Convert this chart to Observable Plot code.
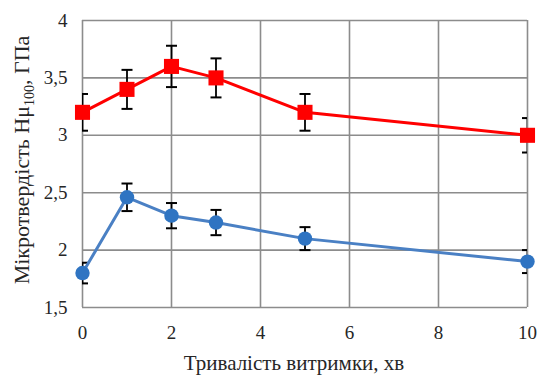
<!DOCTYPE html>
<html><head><meta charset="utf-8">
<script src="https://cdn.jsdelivr.net/npm/d3@7"></script>
<script src="https://cdn.jsdelivr.net/npm/@observablehq/plot@0.6"></script>
<style>
body{margin:0;background:#fff}
#chart svg, #chart svg text {font-family: "Liberation Serif", "DejaVu Serif", "Times New Roman", serif;}
</style>
</head><body><div id="chart"></div>
<script>
const times = [0, 1, 2, 3, 5, 10];
const redValues = [3.2, 3.4, 3.6, 3.5, 3.2, 3.0];
const redErrors = [0.16, 0.17, 0.18, 0.17, 0.16, 0.15];
const blueValues = [1.8, 2.46, 2.3, 2.24, 2.1, 1.9];
const blueErrors = [0.09, 0.12, 0.11, 0.11, 0.1, 0.1];
const xTicks = [0, 2, 4, 6, 8, 10];
const yTicks = [1.5, 2, 2.5, 3, 3.5, 4];
const xLabel = "Тривалість витримки, хв";
const yLabelMain = "Мікротвердість Hμ";
const yLabelSub = "100";
const yLabelEnd = ", ГПа";

const red = times.map((t, i) => ({t, v: redValues[i], e: redErrors[i]}));
const blue = times.map((t, i) => ({t, v: blueValues[i], e: blueErrors[i]}));
const capSymbol = {draw(ctx, size) { const r = Math.sqrt(size / Math.PI); ctx.moveTo(-r, 0); ctx.lineTo(r, 0); }};
const errMarks = (data) => [
  Plot.ruleX(data, {x: "t", y1: d => d.v - d.e, y2: d => d.v + d.e, stroke: "#000", strokeWidth: 1.8, clip: true}),
  Plot.dot(data, {x: "t", y: d => d.v - d.e, symbol: capSymbol, r: 5.5, stroke: "#000", strokeWidth: 2, clip: true}),
  Plot.dot(data, {x: "t", y: d => d.v + d.e, symbol: capSymbol, r: 5.5, stroke: "#000", strokeWidth: 2, clip: true})
];
const chart = Plot.plot({
  width: 539, height: 376,
  marginLeft: 82, marginRight: 12, marginTop: 20, marginBottom: 69,
  style: {fontSize: "19px", color: "#262626", background: "#fff"},
  x: {domain: [0, 10]},
  y: {domain: [1.5, 4]},
  marks: [
    Plot.ruleX(xTicks, {x: d => d, stroke: "#8c8c8c", strokeWidth: 1.6}),
    Plot.ruleY(yTicks, {y: d => d, stroke: "#8c8c8c", strokeWidth: 1.6}),
    Plot.axisX({ticks: xTicks, tickSize: 0, tickPadding: 18, label: null, tickFormat: d => String(d)}),
    Plot.axisY({ticks: yTicks, tickSize: 0, tickPadding: 15, label: null, tickFormat: d => String(d).replace(".", ",")}),
    ...errMarks(red),
    ...errMarks(blue),
    Plot.line(red, {x: "t", y: "v", stroke: "#ff0000", strokeWidth: 3}),
    Plot.line(blue, {x: "t", y: "v", stroke: "#4a80c4", strokeWidth: 3}),
    Plot.dot(red, {x: "t", y: "v", symbol: "square", r: 8.5, fill: "#ff0000", stroke: "none"}),
    Plot.dot(blue, {x: "t", y: "v", symbol: "circle", r: 7.2, fill: "#2f74c2", stroke: "none"})
  ]
});
const svg = d3.select(chart);
svg.append("text")
  .attr("x", 294).attr("y", 370)
  .attr("text-anchor", "middle")
  .attr("font-size", 21).attr("fill", "#262626")
  .text(xLabel);
const yl = svg.append("text")
  .attr("transform", "translate(29,160) rotate(-90)")
  .attr("text-anchor", "middle")
  .attr("font-size", 22).attr("fill", "#262626");
yl.append("tspan").text(yLabelMain);
yl.append("tspan").attr("font-size", 14).attr("dy", 5).text(yLabelSub);
yl.append("tspan").attr("dy", -5).text(yLabelEnd);
document.getElementById("chart").appendChild(chart);
</script>
</body></html>
